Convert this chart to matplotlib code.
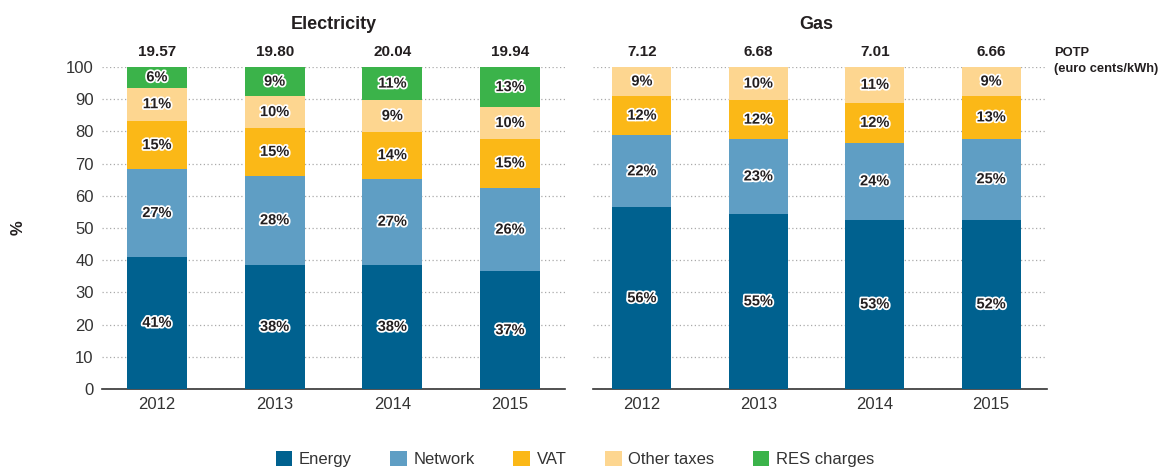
import matplotlib.pyplot as plt
import matplotlib.patheffects as pe
from matplotlib.patches import Patch
import numpy as np

plt.rcParams['font.family'] = ['Liberation Sans', 'DejaVu Sans']

years = ['2012', '2013', '2014', '2015']
components = ['Energy', 'Network', 'VAT', 'Other taxes', 'RES charges']
colors = ['#00618f', '#5f9ec4', '#fbb817', '#fdd690', '#3bb34a']

# Electricity shares (%), bottom to top
elec_energy = [41.1, 38.6, 38.6, 36.5]
elec_network = [27.1, 27.6, 26.7, 26.0]
elec_vat = [15.1, 14.9, 14.6, 15.2]
elec_other = [10.3, 9.8, 9.8, 9.8]
elec_res = [6.4, 9.1, 10.3, 12.5]
elec_labels = [['41%', '38%', '38%', '37%'],
               ['27%', '28%', '27%', '26%'],
               ['15%', '15%', '14%', '15%'],
               ['11%', '10%', '9%', '10%'],
               ['6%', '9%', '11%', '13%']]
elec_potp = ['19.57', '19.80', '20.04', '19.94']

# Gas shares (%), bottom to top
gas_energy = [56.4, 54.4, 52.6, 52.6]
gas_network = [22.4, 23.2, 23.8, 25.1]
gas_vat = [12.2, 12.1, 12.5, 13.3]
gas_other = [9.0, 10.3, 11.1, 9.0]
gas_labels = [['56%', '55%', '53%', '52%'],
              ['22%', '23%', '24%', '25%'],
              ['12%', '12%', '12%', '13%'],
              ['9%', '10%', '11%', '9%']]
gas_potp = ['7.12', '6.68', '7.01', '6.66']

fig = plt.figure(figsize=(11.64, 4.70), dpi=100)
ax1 = fig.add_axes([0.0876, 0.1723, 0.3978, 0.6851])
ax2 = fig.add_axes([0.5095, 0.1723, 0.3900, 0.6851])

txt_dark = '#231f20'
outline = [pe.withStroke(linewidth=2.5, foreground='white')]


def draw_panel(ax, series, labels, potp, title, xlim, width):
    x = np.arange(len(years))
    bottom = np.zeros(len(years))
    for i, vals in enumerate(series):
        vals = np.array(vals)
        ax.bar(x, vals, width, bottom=bottom, color=colors[i], zorder=3)
        for j in range(len(years)):
            ax.text(x[j], bottom[j] + vals[j] / 2, labels[i][j], ha='center', va='center',
                    fontsize=10.5, fontweight='bold', color=txt_dark,
                    path_effects=outline, zorder=4)
        bottom += vals
    for j in range(len(years)):
        ax.text(x[j], 102.5, potp[j], ha='center', va='bottom', fontsize=11,
                fontweight='bold', color=txt_dark)
    ax.text(1.5, 110.5, title, ha='center', va='bottom', fontsize=13,
            fontweight='bold', color=txt_dark)
    ax.set_xlim(*xlim)
    ax.set_ylim(0, 100)
    ax.set_yticks(range(0, 101, 10))
    ax.set_xticks(x)
    ax.set_xticklabels(years, fontsize=12, color='#333333')
    ax.yaxis.grid(True, linestyle=(0, (1, 2)), color='#aaaaaa', linewidth=0.9, zorder=0)
    for s in ['top', 'right', 'left']:
        ax.spines[s].set_visible(False)
    ax.spines['bottom'].set_color('#333333')
    ax.spines['bottom'].set_linewidth(1.2)
    ax.tick_params(axis='both', length=0, pad=6)
    ax.tick_params(axis='y', labelsize=12, labelcolor='#333333')


draw_panel(ax1, [elec_energy, elec_network, elec_vat, elec_other, elec_res],
           elec_labels, elec_potp, 'Electricity', (-0.467, 3.467), 0.51)
draw_panel(ax2, [gas_energy, gas_network, gas_vat, gas_other],
           gas_labels, gas_potp, 'Gas', (-0.42, 3.48), 0.507)
ax2.set_yticklabels([])

fig.text(18 / 1164, 1 - 228 / 470, '%', rotation=90, ha='center', va='center',
         fontsize=12, fontweight='bold', color=txt_dark)

fig.text(0.9055, 0.871, 'POTP\n(euro cents/kWh)', ha='left', va='center',
         fontsize=9.3, fontweight='bold', color=txt_dark, linespacing=1.45)

handles = [Patch(facecolor=c, label=l) for c, l in zip(colors, components)]
fig.legend(handles=handles, loc='lower center', bbox_to_anchor=(0.494, -0.025), ncol=5,
           frameon=False, fontsize=12, handlelength=1.0, handleheight=1.0,
           handletextpad=0.4, columnspacing=2.3, labelcolor='#333333')

fig.savefig('out.png', dpi=100)
